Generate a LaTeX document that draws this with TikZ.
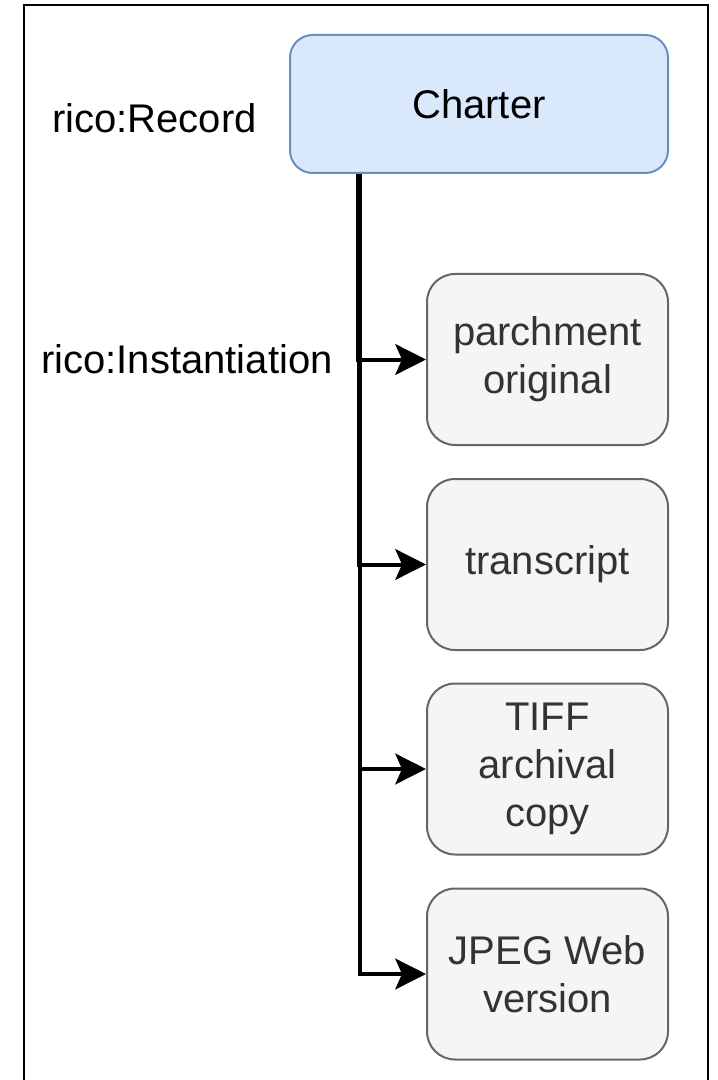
\documentclass[tikz,border=0pt]{standalone}
\usepackage{fontspec}
\setmainfont{Liberation Sans}
\usetikzlibrary{arrows.meta,calc}
\definecolor{bluefill}{HTML}{DAE8FC}
\definecolor{bluedraw}{HTML}{6C8EBF}
\definecolor{grayfill}{HTML}{F5F5F5}
\definecolor{graydraw}{HTML}{666666}
\definecolor{graytext}{HTML}{333333}
\begin{document}
\begin{tikzpicture}[x=0.75pt,y=-0.75pt,
  lbl/.style={font=\fontsize{30pt}{36pt}\selectfont, inner sep=0pt, anchor=base west},
  recbox/.style={draw=bluedraw, fill=bluefill, line width=1.5pt, rounded corners=17pt,
    minimum width=283.5pt, minimum height=103.5pt, font=\fontsize{30pt}{36pt}\selectfont},
  instbox/.style={draw=graydraw, fill=grayfill, line width=1.5pt, rounded corners=21pt,
    minimum width=180.75pt, minimum height=128.25pt, text=graytext, align=center,
    font=\fontsize{30pt}{36pt}\selectfont, inner sep=0pt},
  edge/.style={draw=black, line width=3pt, -{Stealth[length=23pt,width=23pt,inset=5pt]}}]
\useasboundingbox (0,0) rectangle (717,1080);
\draw[line width=1.5pt] (24,5) rectangle (708,1090);
\node[recbox] (charter) at (479,104) {Charter};
\node[instbox] (p1) at (547.5,359.5) {parchment\\original};
\node[instbox] (p2) at (547.5,564.5) {transcript};
\node[instbox] (p3) at (547.5,769) {TIFF\\archival\\copy};
\node[instbox] (p4) at (547.5,974) {JPEG Web\\version};
\node[lbl] (lrec) at (52,133) {rico:Record};
\node[lbl] (linst) at (41,373) {rico:Instantiation};
\coordinate (b1) at (357.5,0);
\coordinate (b2) at (358.5,0);
\coordinate (b3) at (359.5,0);
\coordinate (b4) at (360,0);
\draw[edge] (charter.south -| b1) |- (p1.west);
\draw[edge] (charter.south -| b2) |- (p2.west);
\draw[edge] (charter.south -| b3) |- (p3.west);
\draw[edge] (charter.south -| b4) |- (p4.west);
\end{tikzpicture}
\end{document}
